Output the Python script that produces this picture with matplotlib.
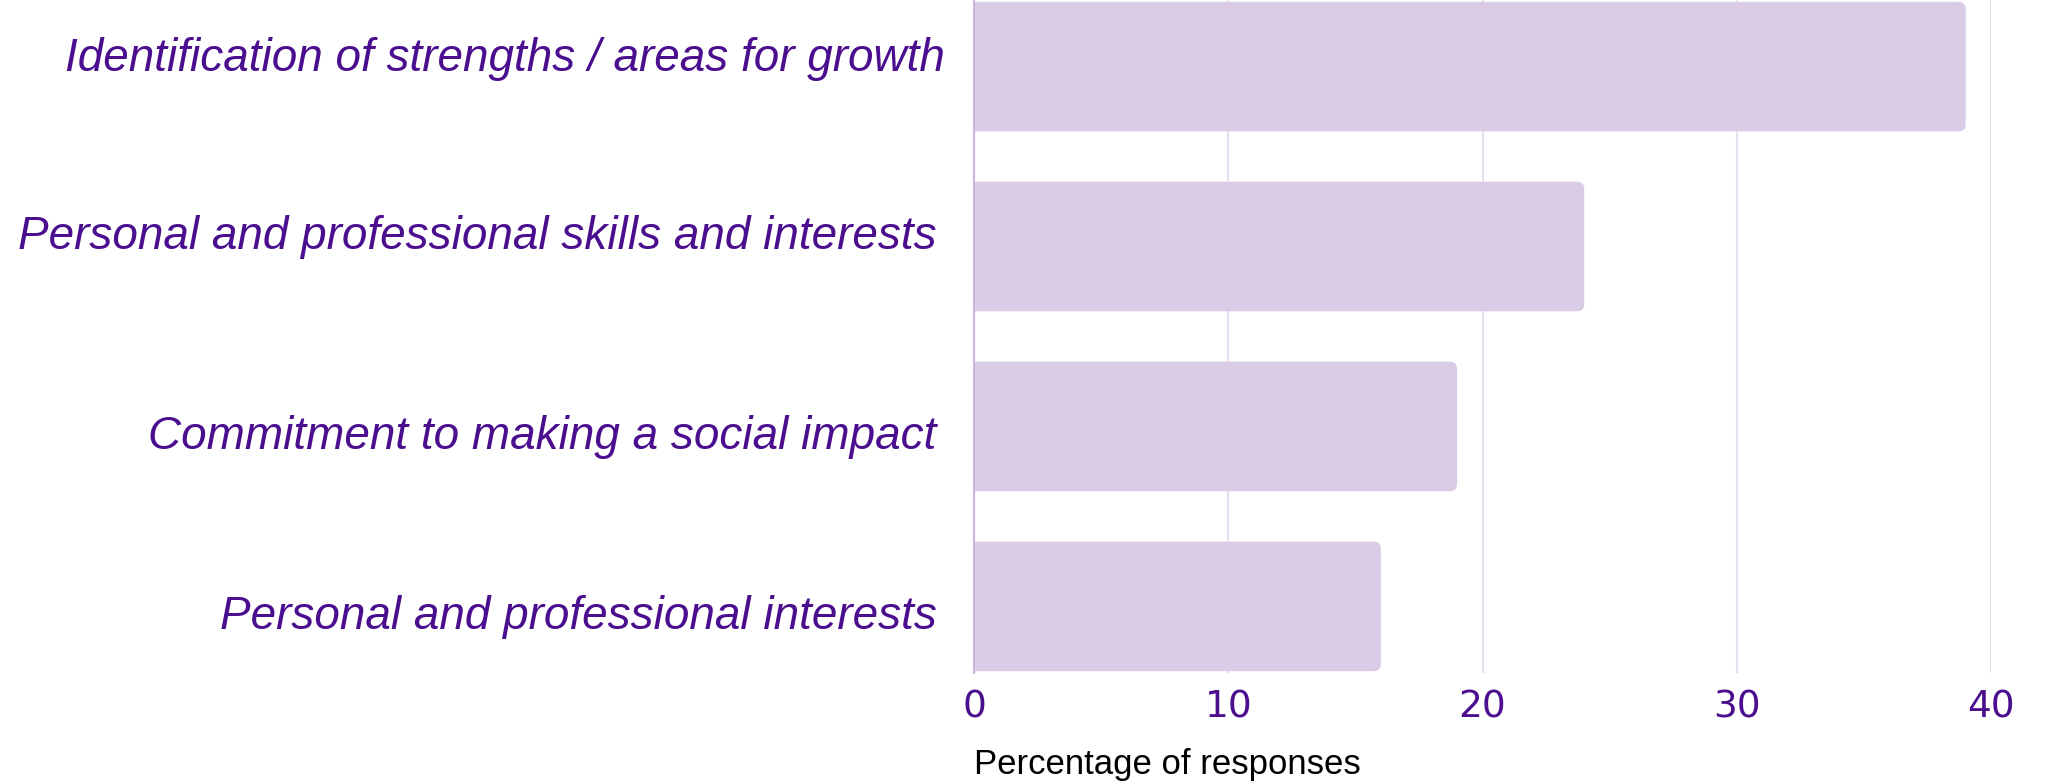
import numpy as np
import matplotlib.pyplot as plt
from matplotlib.patches import FancyBboxPatch

categories = [
    'Identification of strengths / areas for growth',
    'Personal and professional skills and interests',
    'Commitment to making a social impact',
    'Personal and professional interests',
]
percentages = [39, 24, 19, 16]
xticks = [0, 10, 20, 30, 40]

bar_color = '#dacce6'
label_color = '#4a0e8f'

fig = plt.figure(figsize=(20.47, 7.83), dpi=100)
ax = fig.add_axes([0.4758, 0.1405, 0.9727 - 0.4758, 0.8595])

ypos = np.arange(len(categories))
bar_h = 0.72
ax.set_xlim(0, 40)
ax.set_ylim(3.37, -0.37)

# barras con esquinas redondeadas a la derecha (el lado izquierdo queda recortado por el eje)
px_x = ax.get_window_extent().width / 40
px_y = ax.get_window_extent().height / 3.74
for y, v in zip(ypos, percentages):
    box = FancyBboxPatch((-0.5, y - bar_h / 2), v + 0.5, bar_h,
                         boxstyle='round,pad=0,rounding_size=0.28',
                         mutation_aspect=px_x / px_y,
                         facecolor=bar_color, edgecolor='none', zorder=2)
    ax.add_patch(box)

ax.set_xticks(xticks)
ax.set_xticklabels([str(t) for t in xticks], fontsize=27, color=label_color,
                   family='DejaVu Sans')
ax.set_yticks(ypos)
ax.set_yticklabels(categories, fontsize=33, color=label_color, style='italic',
                   family='Liberation Sans')
ax.tick_params(axis='both', length=0)
ax.tick_params(axis='x', pad=12)
ax.tick_params(axis='y', pad=27)

# pequeños ajustes de posición de las etiquetas (dx, dy en px)
offsets = [(8, -13), (0, -15), (0, 6), (0, 6)]
for lbl, (dx, dy) in zip(ax.get_yticklabels(), offsets):
    lbl.set_transform(lbl.get_transform() + plt.matplotlib.transforms.ScaledTranslation(dx / 100, -dy / 100, fig.dpi_scale_trans))

ax.grid(axis='x', color='#e5e0f0', linewidth=1.5, zorder=0)
for s in ['top', 'right', 'bottom']:
    ax.spines[s].set_visible(False)
ax.spines['left'].set_color('#c9b6dc')
ax.spines['left'].set_linewidth(1.5)
ax.set_axisbelow(True)

ax.set_xlabel('Percentage of responses', fontsize=25, color='black',
              family='Liberation Sans', loc='left', labelpad=16)

fig.savefig('out.png', dpi=100)
